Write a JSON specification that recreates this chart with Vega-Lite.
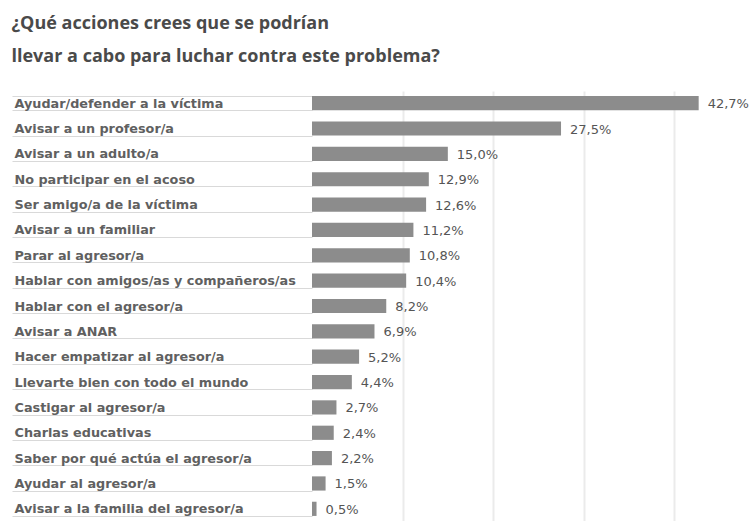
{
  "$schema": "https://vega.github.io/schema/vega-lite/v6.json",
  "width": 441,
  "height": 430,
  "autosize": {"type": "none"},
  "padding": {"left": 312, "top": 91, "right": 0, "bottom": 0},
  "background": "white",
  "title": {
    "text": ["¿Qué acciones crees que se podrían", "llevar a cabo para luchar contra este problema?"],
    "anchor": "start",
    "frame": "bounds",
    "font": "Open Sans",
    "fontSize": 18,
    "fontWeight": "bold",
    "color": "#4a4a4a",
    "lineHeight": 33,
    "offset": 19
  },
  "data": {
    "values": [
      {"accion": "Ayudar/defender a la víctima", "pct": 42.7},
      {"accion": "Avisar a un profesor/a", "pct": 27.5},
      {"accion": "Avisar a un adulto/a", "pct": 15.0},
      {"accion": "No participar en el acoso", "pct": 12.9},
      {"accion": "Ser amigo/a de la víctima", "pct": 12.6},
      {"accion": "Avisar a un familiar", "pct": 11.2},
      {"accion": "Parar al agresor/a", "pct": 10.8},
      {"accion": "Hablar con amigos/as y compañeros/as", "pct": 10.4},
      {"accion": "Hablar con el agresor/a", "pct": 8.2},
      {"accion": "Avisar a ANAR", "pct": 6.9},
      {"accion": "Hacer empatizar al agresor/a", "pct": 5.2},
      {"accion": "Llevarte bien con todo el mundo", "pct": 4.4},
      {"accion": "Castigar al agresor/a", "pct": 2.7},
      {"accion": "Charlas educativas", "pct": 2.4},
      {"accion": "Saber por qué actúa el agresor/a", "pct": 2.2},
      {"accion": "Ayudar al agresor/a", "pct": 1.5},
      {"accion": "Avisar a la familia del agresor/a", "pct": 0.5}
    ]
  },
  "transform": [
    {"calculate": "replace(format(datum.pct, '.1f'), '.', ',') + '%'", "as": "etiqueta"}
  ],
  "encoding": {
    "y": {
      "field": "accion",
      "type": "nominal",
      "sort": null,
      "title": null,
      "scale": {"paddingInner": 0.44, "paddingOuter": 0.2},
      "axis": {
        "domain": false,
        "ticks": true,
        "tickBand": "extent",
        "tickSize": 300,
        "tickColor": "#d9d9d9",
        "tickWidth": 1,
        "labelAlign": "left",
        "labelPadding": -2,
        "labelFont": "DejaVu Sans",
        "labelFontSize": 12.8,
        "labelFontWeight": "bold",
        "labelColor": "#606060",
        "labelLimit": 300,
        "grid": false
      }
    },
    "x": {
      "field": "pct",
      "type": "quantitative",
      "title": null,
      "scale": {"domain": [0, 48.7], "nice": false},
      "axis": {
        "values": [10, 20, 30, 40],
        "grid": true,
        "gridColor": "#ebebeb",
        "gridWidth": 2,
        "labels": false,
        "ticks": false,
        "domain": false
      }
    }
  },
  "layer": [
    {
      "mark": {"type": "bar", "color": "#8c8c8c"}
    },
    {
      "mark": {"type": "text", "align": "left", "dx": 9, "dy": 1, "font": "DejaVu Sans", "fontSize": 13, "color": "#555555", "baseline": "middle"},
      "encoding": {"text": {"field": "etiqueta"}}
    }
  ],
  "config": {"view": {"stroke": null}}
}
